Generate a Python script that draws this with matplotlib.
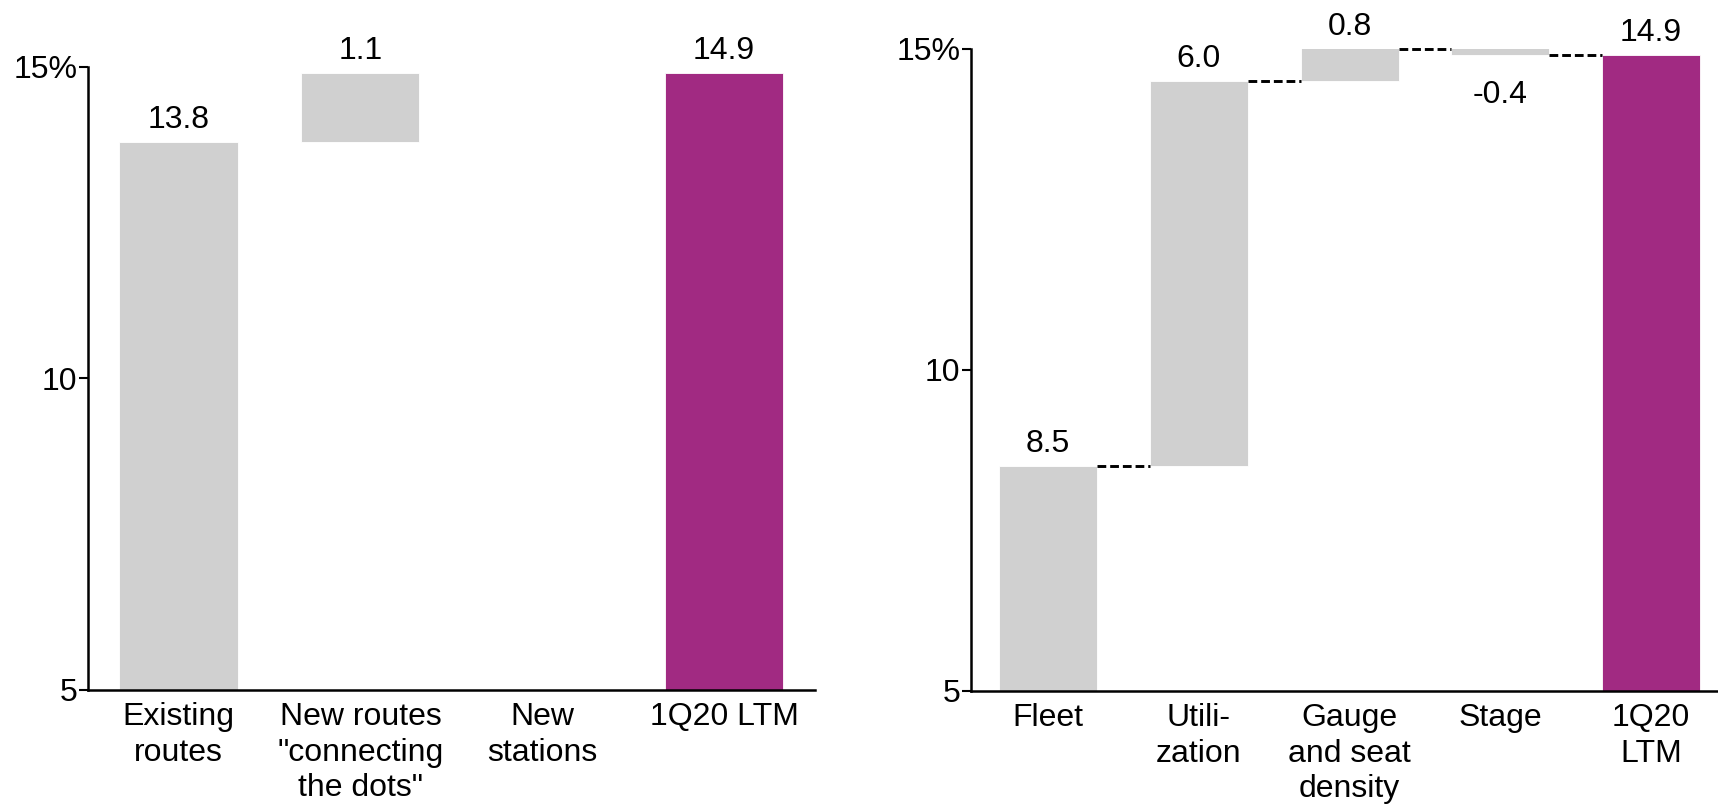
import matplotlib
matplotlib.use("Agg")
import matplotlib.pyplot as plt
import numpy as np

plt.rcParams["font.family"] = ["Liberation Sans", "DejaVu Sans"]

# Left panel: bridge of route contributions
left_categories = ["Existing\nroutes", "New routes\n\"connecting\nthe dots\"", "New\nstations", "1Q20 LTM"]
left_values = [13.8, 1.1, 0.0, 14.9]
left_kinds = ["base", "delta", "delta", "total"]

# Right panel: bridge of operating drivers
right_categories = ["Fleet", "Utili-\nzation", "Gauge\nand seat\ndensity", "Stage", "1Q20\nLTM"]
right_values = [8.5, 6.0, 0.8, -0.4, 14.9]
right_kinds = ["base", "delta", "delta", "delta", "total"]

y_ticks = [5, 10, 15]
y_tick_labels = ["5", "10", "15%"]

GREY = "#D0D0D0"
PURPLE = "#A12A82"
FS_TICK = 23
FS_VAL = 23


def waterfall(ax, cats, vals, kinds, xlim, connectors, width=0.65):
    ymin, ymax = 5, 15
    x = np.arange(len(cats))
    running = 0.0
    bottoms, tops = [], []
    for v, k in zip(vals, kinds):
        if k in ("base", "total"):
            b, t = 0.0, v
            running = v
        else:
            b = running
            running = running + v
            t = running
        bottoms.append(b)
        tops.append(t)
    colors = [PURPLE if k == "total" else GREY for k in kinds]
    heights = [t - b for b, t in zip(bottoms, tops)]
    ax.bar(x, heights, bottom=bottoms, width=width, color=colors,
           edgecolor="white", linewidth=0.6, zorder=2)

    for i, v in enumerate(vals):
        if v == 0:
            continue
        lo, hi = sorted((bottoms[i], tops[i]))
        if v > 0:
            ax.annotate(f"{v:.1f}", (x[i], min(hi, ymax)), xytext=(0, 5),
                        textcoords="offset points", ha="center", va="bottom",
                        fontsize=FS_VAL, annotation_clip=False)
        else:
            ax.annotate(f"{v:.1f}", (x[i], min(lo, ymax)), xytext=(0, -18),
                        textcoords="offset points", ha="center", va="top",
                        fontsize=FS_VAL, annotation_clip=False)

    if connectors:
        for i in range(len(cats) - 1):
            level = min(tops[i], ymax)
            ax.plot([x[i] + width / 2, x[i + 1] - width / 2], [level, level],
                    color="black", lw=2.1, ls=(0, (3.0, 1.35)), zorder=3,
                    clip_on=False, dash_capstyle="butt")

    ax.set_xlim(*xlim)
    ax.set_ylim(ymin, ymax)
    ax.set_yticks(y_ticks)
    ax.set_yticklabels(y_tick_labels, fontsize=FS_TICK)
    ax.set_xticks(x)
    ax.set_xticklabels(cats, fontsize=FS_TICK, linespacing=1.22)
    ax.tick_params(axis="x", length=0, pad=9)
    ax.tick_params(axis="y", length=6.5, width=1.5, pad=1)
    for s in ("top", "right"):
        ax.spines[s].set_visible(False)
    for s in ("left", "bottom"):
        ax.spines[s].set_linewidth(1.8)


fig = plt.figure(figsize=(17.18, 8.09), dpi=100)
ax1 = fig.add_axes([0.0510, 0.1471, 0.4234, 0.7701])
ax2 = fig.add_axes([0.5652, 0.1459, 0.4348, 0.7936])

waterfall(ax1, left_categories, left_values, left_kinds, (-0.5, 3.5), connectors=False)
waterfall(ax2, right_categories, right_values, right_kinds, (-0.511, 4.444), connectors=True)

fig.savefig("out.png", dpi=100, facecolor="white")
